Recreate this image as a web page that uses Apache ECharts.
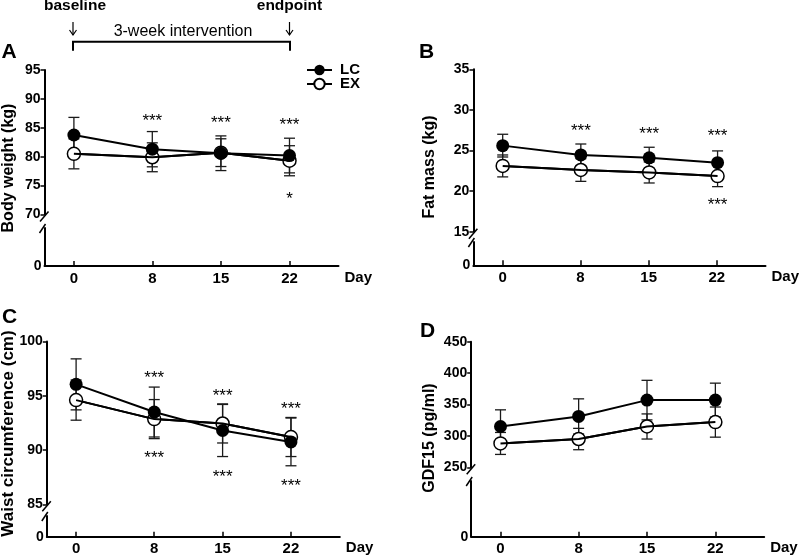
<!DOCTYPE html>
<html><head><meta charset="utf-8">
<script src="https://cdn.jsdelivr.net/npm/echarts@6/dist/echarts.min.js"></script>
<style>html,body{margin:0;padding:0;background:#fff}#c{width:800px;height:557px}</style>
</head><body><div id="c"></div>
<script>
// ---------------- data ----------------
const days = [0, 8, 15, 22];
const dayTicks = [0, 8, 15, 22];
const seriesNames = ['LC', 'EX'];

// A: Body weight (kg)
const bodyWeightLC   = [83.75, 81.3, 80.6, 80.2];
const bodyWeightLCsd = [3.05, 3.05, 3.0, 3.0];
const bodyWeightEX   = [80.5, 79.9, 80.7, 79.3];
const bodyWeightEXsd = [2.6, 2.5, 2.4, 2.6];
const bodyWeightStars = [[8, 86.9], [15, 86.4], [22, 86.1], [22, 73.4]];
const bodyWeightStarText = ['***', '***', '***', '*'];
const bodyWeightTicks = [70, 95, 5];

// B: Fat mass (kg)
const fatMassLC   = [25.6, 24.45, 24.1, 23.5];
const fatMassLCsd = [1.4, 1.35, 1.3, 1.45];
const fatMassEX   = [23.1, 22.6, 22.3, 21.85];
const fatMassEXsd = [1.35, 1.4, 1.3, 1.3];
const fatMassStars = [[8, 27.9], [15, 27.5], [22, 27.2], [22, 18.8]];
const fatMassStarText = ['***', '***', '***', '***'];
const fatMassTicks = [15, 35, 5];

// C: Waist circumference (cm)
const waistLC   = [96.05, 93.5, 91.8, 90.75];
const waistLCsd = [2.35, 2.3, 2.4, 2.2];
const waistEX   = [94.6, 92.85, 92.45, 91.2];
const waistEXsd = [1.85, 1.8, 1.8, 1.8];
const waistStars = [[8, 97.0], [15, 95.35], [22, 94.1], [8, 89.57], [15, 87.9], [22, 87.0]];
const waistStarText = ['***', '***', '***', '***', '***', '***'];
const waistTicks = [85, 100, 5];

// D: GDF15 (pg/ml)
const gdfLC   = [315, 331, 357, 357];
const gdfLCsd = [26.5, 28, 31.5, 27];
const gdfEX   = [288, 295, 315, 322];
const gdfEXsd = [17.5, 17, 20, 24];
const gdfStars = [];
const gdfStarText = [];
const gdfTicks = [250, 450, 50];

// ---------------- layout ----------------
const FF = '"Liberation Sans", Arial, sans-serif';
const panels = [
  {letter:'A', title:'Body weight (kg)', left:44.5, width:294, upTop:70, upBottom:214.5, lowTop:228, zeroY:266,
   ticks:bodyWeightTicks, lc:bodyWeightLC, lcSd:bodyWeightLCsd, ex:bodyWeightEX, exSd:bodyWeightEXsd,
   stars:bodyWeightStars, starText:bodyWeightStarText, letterPos:[9,52.5], titlePos:[8.5,168], titleSize:16},
  {letter:'B', title:'Fat mass (kg)', left:473.4, width:293, upTop:69.3, upBottom:231.7, lowTop:242, zeroY:265.3,
   ticks:fatMassTicks, lc:fatMassLC, lcSd:fatMassLCsd, ex:fatMassEX, exSd:fatMassEXsd,
   stars:fatMassStars, starText:fatMassStarText, letterPos:[426.5,52.5], titlePos:[430,167], titleSize:16},
  {letter:'C', title:'Waist circumference (cm)', left:46.8, width:293, upTop:341.5, upBottom:504.3, lowTop:516, zeroY:536.7,
   ticks:waistTicks, lc:waistLC, lcSd:waistLCsd, ex:waistEX, exSd:waistEXsd,
   stars:waistStars, starText:waistStarText, letterPos:[9.5,317.5], titlePos:[8.5,433.5], titleSize:17},
  {letter:'D', title:'GDF15 (pg/ml)', left:471.2, width:293, upTop:341.7, upBottom:467.3, lowTop:481, zeroY:536.7,
   ticks:gdfTicks, lc:gdfLC, lcSd:gdfLCsd, ex:gdfEX, exSd:gdfEXsd,
   stars:gdfStars, starText:gdfStarText, letterPos:[427.5,331.5], titlePos:[430,438], titleSize:16}
];

const grids = [], xAxes = [], yAxes = [], series = [], graphics = [];
const black = '#000';

function errRender(params, api) {
  const x = api.value(0), m = api.value(1), e = api.value(2);
  const hi = api.coord([x, m + e]), lo = api.coord([x, m - e]);
  const w = 5.5;
  const st = {stroke: '#1a1a1a', lineWidth: 1.3};
  return {type: 'group', children: [
    {type: 'line', shape: {x1: hi[0], y1: hi[1], x2: lo[0], y2: lo[1]}, style: st},
    {type: 'line', shape: {x1: hi[0] - w, y1: hi[1], x2: hi[0] + w, y2: hi[1]}, style: st},
    {type: 'line', shape: {x1: lo[0] - w, y1: lo[1], x2: lo[0] + w, y2: lo[1]}, style: st}
  ]};
}

panels.forEach((p, i) => {
  const gu = 2 * i, gl = 2 * i + 1;
  grids.push({left: p.left, width: p.width, top: p.upTop, height: p.upBottom - p.upTop});
  grids.push({left: p.left, width: p.width, top: p.lowTop, height: p.zeroY - p.lowTop});
  xAxes.push({gridIndex: gu, type: 'value', min: -3, max: 27, show: false});
  xAxes.push({gridIndex: gl, type: 'value', min: -3, max: 27,
    axisLine: {show: true, onZero: false, lineStyle: {color: black, width: 2}},
    axisTick: {show: true, inside: true, length: 5, customValues: dayTicks, lineStyle: {color: black, width: 1.5}},
    axisLabel: {customValues: dayTicks, color: black, fontFamily: FF, fontWeight: 'bold', fontSize: 15, margin: 5},
    splitLine: {show: false},
    name: 'Day', nameLocation: 'end', nameGap: 6,
    nameTextStyle: {color: black, fontFamily: FF, fontWeight: 'bold', fontSize: 15, verticalAlign: 'top', padding: [4, 0, 0, 0]}
  });
  yAxes.push({gridIndex: gu, type: 'value', min: p.ticks[0], max: p.ticks[1], interval: p.ticks[2],
    axisLine: {show: true, onZero: false, lineStyle: {color: black, width: 2}},
    axisTick: {show: true, length: 4, lineStyle: {color: black, width: 1.5}},
    axisLabel: {color: black, fontFamily: FF, fontWeight: 'bold', fontSize: 14, margin: 4},
    splitLine: {show: false}
  });
  yAxes.push({gridIndex: gl, type: 'value', min: 0, max: 1, interval: 1,
    axisLine: {show: true, onZero: false, lineStyle: {color: black, width: 2}},
    axisTick: {show: false},
    axisLabel: {color: black, fontFamily: FF, fontWeight: 'bold', fontSize: 14, margin: 3,
      formatter: v => (v === 0 ? '0' : '')},
    splitLine: {show: false}
  });

  // error bars
  [[p.ex, p.exSd], [p.lc, p.lcSd]].forEach(([v, sd]) => {
    series.push({type: 'custom', xAxisIndex: gu, yAxisIndex: gu, z: 1, silent: true,
      renderItem: errRender, encode: {x: 0, y: 1},
      data: days.map((d, k) => [d, v[k], sd[k]])});
  });
  // EX (open circles) with line over
  series.push({name: 'EX', type: 'line', xAxisIndex: gu, yAxisIndex: gu, z: 2,
    symbol: 'circle', symbolSize: 13, showAllSymbol: true,
    itemStyle: {color: '#fff', borderColor: black, borderWidth: 1.5},
    lineStyle: {color: black, width: 2},
    data: days.map((d, k) => [d, p.ex[k]])});
  series.push({name: 'EX line', type: 'line', xAxisIndex: gu, yAxisIndex: gu, z: 3, silent: true,
    showSymbol: false, lineStyle: {color: black, width: 2},
    data: days.map((d, k) => [d, p.ex[k]])});
  series.push({name: 'LC', type: 'line', xAxisIndex: gu, yAxisIndex: gu, z: 4,
    symbol: 'circle', symbolSize: 13, showAllSymbol: true,
    itemStyle: {color: black},
    lineStyle: {color: black, width: 2},
    data: days.map((d, k) => [d, p.lc[k]])});
  // significance stars
  if (p.stars.length) {
    series.push({type: 'custom', xAxisIndex: gu, yAxisIndex: gu, z: 5, silent: true, encode: {x: 0, y: 1},
      renderItem: (params, api) => {
        const pt = api.coord([api.value(0), api.value(1)]);
        return {type: 'text', x: pt[0], y: pt[1] + 4,
          style: {text: p.starText[params.dataIndex], fill: black, font: '17px ' + FF, align: 'center', verticalAlign: 'middle'}};
      },
      data: p.stars});
  }

  // axis break marks
  const L = p.left;
  graphics.push({type: 'line', shape: {x1: L - 4.5, y1: p.upBottom + 7, x2: L + 4, y2: p.upBottom - 3}, style: {stroke: black, lineWidth: 1.5}});
  graphics.push({type: 'line', shape: {x1: L - 5, y1: p.lowTop + 5, x2: L + 1, y2: p.lowTop - 4}, style: {stroke: black, lineWidth: 1.5}});
  // panel letter
  graphics.push({type: 'text', x: p.letterPos[0], y: p.letterPos[1],
    style: {text: p.letter, fill: black, font: 'bold 21px ' + FF, align: 'center', verticalAlign: 'middle'}});
  // y title
  graphics.push({type: 'text', x: p.titlePos[0], y: p.titlePos[1], rotation: Math.PI / 2,
    style: {text: p.title, fill: black, font: 'bold ' + p.titleSize + 'px ' + FF, align: 'center', verticalAlign: 'middle'}});
});

// top annotation (timeline)
graphics.push({type: 'text', x: 75, y: 6, style: {text: 'baseline', fill: black, font: 'bold 15.5px ' + FF, align: 'center', verticalAlign: 'middle'}});
graphics.push({type: 'text', x: 289.5, y: 6, style: {text: 'endpoint', fill: black, font: 'bold 15.5px ' + FF, align: 'center', verticalAlign: 'middle'}});
graphics.push({type: 'text', x: 183, y: 31.5, style: {text: '3-week intervention', fill: black, font: '16px ' + FF, align: 'center', verticalAlign: 'middle'}});
[73, 289.5].forEach(ax => {
  graphics.push({type: 'polyline', shape: {points: [[ax, 22], [ax, 35]]}, style: {stroke: black, lineWidth: 1.2, fill: null}});
  graphics.push({type: 'polyline', shape: {points: [[ax - 3.5, 30], [ax, 35], [ax + 3.5, 30]]}, style: {stroke: black, lineWidth: 1.2, fill: null}});
});
graphics.push({type: 'polyline', shape: {points: [[73, 50.7], [73, 41.7], [290, 41.7], [290, 50.7]]}, style: {stroke: black, lineWidth: 2, fill: null}});

const chart = echarts.init(document.getElementById('c'), null, {renderer: 'canvas'});
chart.setOption({
  animation: false,
  backgroundColor: '#fff',
  grid: grids, xAxis: xAxes, yAxis: yAxes, series: series,
  legend: {data: seriesNames, left: 306, top: 62.5, padding: 0, orient: 'vertical', itemWidth: 25, itemHeight: 13, itemGap: -1,
    textStyle: {color: black, fontFamily: FF, fontWeight: 'bold', fontSize: 15, lineHeight: 13, padding: [0, 0, 0, 3]}},
  graphic: graphics
});
</script></body></html>
